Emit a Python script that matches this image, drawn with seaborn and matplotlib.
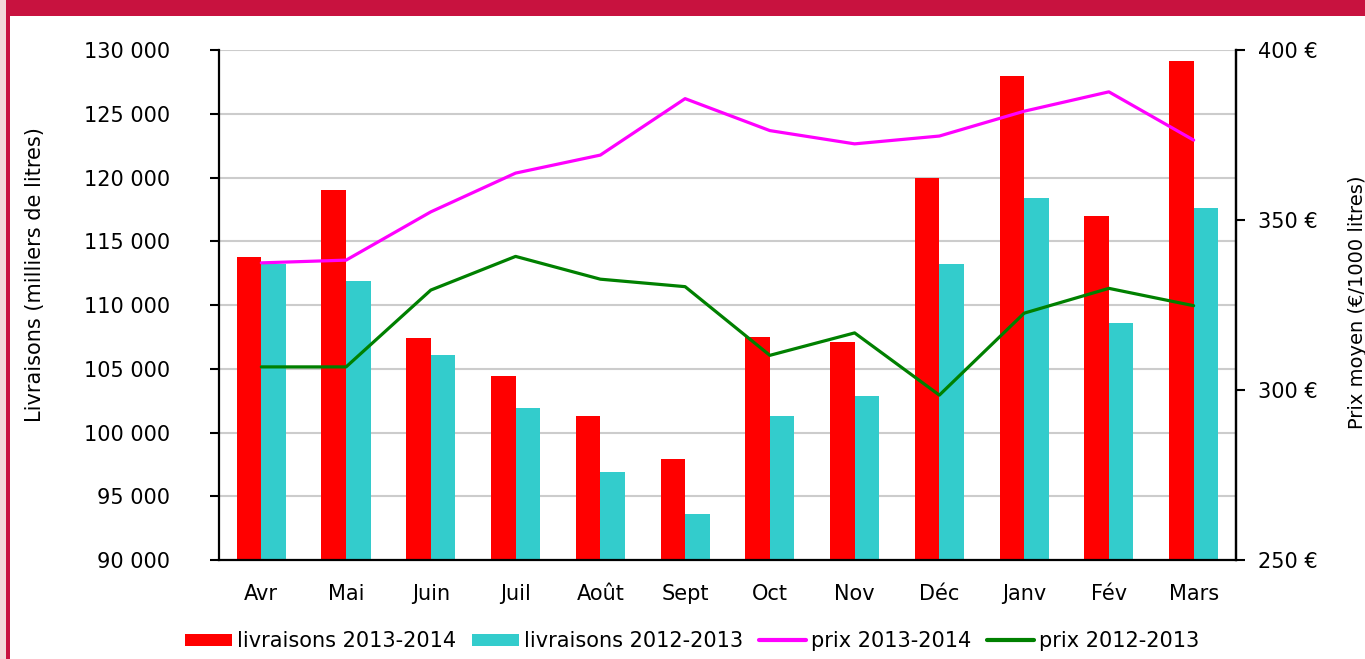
import numpy as np
import pandas as pd
import matplotlib
matplotlib.use("Agg")
import matplotlib.pyplot as plt
from matplotlib.patches import Patch, Rectangle
from matplotlib.lines import Line2D
from matplotlib.ticker import FuncFormatter
import seaborn as sns

months = ["Avr", "Mai", "Juin", "Juil", "Août", "Sept", "Oct", "Nov", "Déc", "Janv", "Fév", "Mars"]
livr_2013_2014 = [113800, 119000, 107400, 104400, 101300, 97900, 107500, 107100, 120000, 128000, 117000, 129100]
livr_2012_2013 = [113200, 111900, 106100, 101900, 96900, 93600, 101300, 102900, 113200, 118400, 108600, 117600]
prix_2013_2014 = [337.4, 338.2, 352.4, 363.8, 369.1, 385.7, 376.3, 372.4, 374.7, 382.0, 387.7, 373.5]
prix_2012_2013 = [306.8, 306.8, 329.4, 339.3, 332.6, 330.4, 310.2, 316.8, 298.5, 322.6, 329.9, 324.8]

RED = "#ff0000"
CYAN = "#33cccc"
MAGENTA = "#ff00ff"
GREEN = "#008000"
CRIMSON = "#c8123f"

sns.set_style("white")
plt.rcParams["font.family"] = ["DejaVu Sans"]
plt.rcParams["text.color"] = "black"
plt.rcParams["axes.labelcolor"] = "black"
plt.rcParams["xtick.color"] = "black"
plt.rcParams["ytick.color"] = "black"

bars = pd.DataFrame({
    "mois": months * 2,
    "livraisons": livr_2013_2014 + livr_2012_2013,
    "serie": ["livraisons 2013-2014"] * 12 + ["livraisons 2012-2013"] * 12,
})

fig = plt.figure(figsize=(13.65, 6.59), dpi=100)
ax = fig.add_axes([0.1604, 0.1502, 0.7451, 0.7739])

# frame around the chart (top band + left strip)
fig.patches.append(Rectangle((0, 1 - 16 / 659), 1, 16 / 659, transform=fig.transFigure,
                             facecolor=CRIMSON, edgecolor="none", zorder=0))
fig.patches.append(Rectangle((0, 0), 6 / 1365, 1, transform=fig.transFigure,
                             facecolor="#f3d8d8", edgecolor="none", zorder=0))
fig.patches.append(Rectangle((6 / 1365, 0), 4 / 1365, 1 - 16 / 659, transform=fig.transFigure,
                             facecolor=CRIMSON, edgecolor="none", zorder=0))

sns.barplot(data=bars, x="mois", y="livraisons", hue="serie", order=months,
            palette=[RED, CYAN], width=0.58, gap=0, saturation=1, errorbar=None,
            linewidth=0, ax=ax)
ax.get_legend().remove()

ax.set_ylim(90000, 130000)
ax.set_xlim(-0.5, len(months) - 0.5)
ax.set_yticks(np.arange(90000, 130001, 5000))
ax.yaxis.set_major_formatter(FuncFormatter(lambda v, p: f"{v:,.0f}".replace(",", " ")))
ax.set_axisbelow(True)
ax.yaxis.grid(True, color="#cccccc", linewidth=1.5)
ax.xaxis.grid(False)

ax.set_xticks(range(len(months)))
ax.set_xticklabels(months)
ax.set_xticks(np.arange(-0.5, len(months), 1), minor=True)
ax.tick_params(axis="x", which="major", length=0, pad=17, labelsize=15)
ax.tick_params(axis="x", which="minor", length=6, width=1.5, direction="out", color="black")
ax.tick_params(axis="y", length=6.5, width=1.5, direction="out", pad=29, labelsize=15, color="black", left=True)
ax.set_xlabel("")
ax.set_ylabel("Livraisons (milliers de litres)", fontsize=15)
ax.yaxis.set_label_coords(-0.171, 0.56)

for side in ["left", "bottom", "right"]:
    ax.spines[side].set_color("black")
    ax.spines[side].set_linewidth(1.6)
ax.spines["top"].set_visible(False)

ax2 = ax.twinx()
xpos = np.arange(len(months))
sns.lineplot(x=xpos, y=prix_2013_2014, color=MAGENTA, linewidth=2.3, ax=ax2)
sns.lineplot(x=xpos, y=prix_2012_2013, color=GREEN, linewidth=2.3, ax=ax2)
ax2.set_ylim(250, 400)
ax2.set_yticks([250, 300, 350, 400])
ax2.yaxis.set_major_formatter(FuncFormatter(lambda v, p: f"{v:.0f} €"))
ax2.tick_params(axis="y", length=6.5, width=1.5, direction="out", pad=9, labelsize=15, color="black", right=True)
ax2.set_ylabel("Prix moyen (€/1000 litres)", fontsize=14)
ax2.yaxis.set_label_coords(1.110, 0.506)
ax2.grid(False)
for side in ["left", "bottom", "right", "top"]:
    ax2.spines[side].set_visible(False)
ax2.spines["right"].set_visible(True)
ax2.spines["right"].set_color("black")
ax2.spines["right"].set_linewidth(1.6)

handles = [
    Patch(facecolor=RED, edgecolor="none", label="livraisons 2013-2014"),
    Patch(facecolor=CYAN, edgecolor="none", label="livraisons 2012-2013"),
    Line2D([], [], color=MAGENTA, linewidth=3, label="prix 2013-2014"),
    Line2D([], [], color=GREEN, linewidth=3, label="prix 2012-2013"),
]
fig.legend(handles=handles, loc="center", bbox_to_anchor=(0.507, 0.027), ncol=4,
           frameon=False, fontsize=15, handlelength=2.25, handleheight=0.55,
           handletextpad=0.25, columnspacing=0.75)

fig.savefig("out.png", dpi=100)
